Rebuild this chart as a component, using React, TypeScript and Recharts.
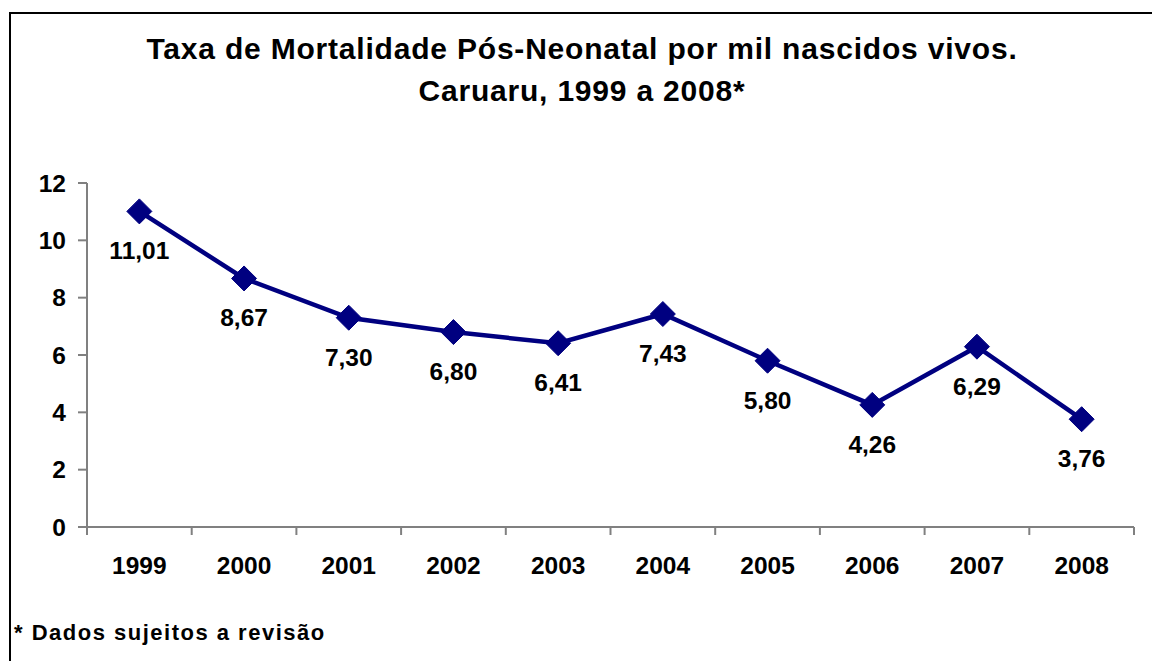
import { LineChart, Line, XAxis, YAxis, LabelList } from 'recharts';

// values (per 1000 live births)
const years = ['1999', '2000', '2001', '2002', '2003', '2004', '2005', '2006', '2007', '2008'];
const rates = [11.01, 8.67, 7.3, 6.8, 6.41, 7.43, 5.8, 4.26, 6.29, 3.76];
const yTicks = [0, 2, 4, 6, 8, 10, 12];

const titleLines = ['Taxa de Mortalidade Pós-Neonatal por mil nascidos vivos.', 'Caruaru, 1999 a 2008*'];
const footnote = '* Dados sujeitos a revisão';

const W = 1152;
const H = 661;
const PLOT_LEFT = 87;
const PLOT_RIGHT = 1134;
const PLOT_TOP = 183;
const PLOT_BOTTOM = 527;
const BAND = (PLOT_RIGHT - PLOT_LEFT) / years.length;

const NAVY = '#000080';
const AXIS_GRAY = '#808080';
const FONT = '"Liberation Sans", Arial, Helvetica, sans-serif';

const data = years.map((year, i) => ({ year, rate: rates[i] }));

const fmt = (v: number) => v.toFixed(2).replace('.', ',');

const Diamond = (props: any) => {
  const { cx, cy } = props;
  if (cx == null || cy == null) return null;
  const r = 12.5;
  return (
    <polygon
      points={`${cx},${cy - r} ${cx + r},${cy} ${cx},${cy + r} ${cx - r},${cy}`}
      fill={NAVY}
      stroke={NAVY}
      strokeWidth={1}
      strokeLinejoin="round"
    />
  );
};

const YearTick = (props: any) => {
  const { x, y, payload } = props;
  const idx = years.indexOf(String(payload.value));
  const half = BAND / 2;
  return (
    <g>
      <line x1={x - half} y1={y} x2={x - half} y2={y + 8} stroke={AXIS_GRAY} strokeWidth={2} />
      {idx === years.length - 1 && (
        <line x1={x + half} y1={y} x2={x + half} y2={y + 8} stroke={AXIS_GRAY} strokeWidth={2} />
      )}
      <text x={x} y={y + 47} textAnchor="middle" fill="#000" fontFamily={FONT} fontWeight="bold" fontSize={24.5}>
        {payload.value}
      </text>
    </g>
  );
};

const ValueLabel = (props: any) => {
  const { x, y, value } = props;
  return (
    <text x={x} y={y + 48} textAnchor="middle" fill="#000" fontFamily={FONT} fontWeight="bold" fontSize={24.5}>
      {fmt(Number(value))}
    </text>
  );
};

export default function App() {
  return (
    <div
      style={{
        position: 'fixed',
        left: 0,
        top: 0,
        width: W,
        height: H,
        background: '#fff',
        overflow: 'hidden',
      }}
    >
      {/* outer frame: only its left and top edges are inside the picture */}
      <div style={{ position: 'absolute', left: 9, top: 12, width: W, height: 2, background: '#000' }} />
      <div style={{ position: 'absolute', left: 9, top: 12, width: 2, height: H, background: '#000' }} />

      <div style={{ position: 'absolute', left: 0, top: 0 }}>
        <LineChart
          width={W}
          height={H}
          data={data}
          margin={{ top: PLOT_TOP, right: W - PLOT_RIGHT, bottom: 0, left: 0 }}
        >
          <XAxis
            dataKey="year"
            scale="band"
            interval={0}
            height={H - PLOT_BOTTOM}
            axisLine={{ stroke: AXIS_GRAY, strokeWidth: 2 }}
            tickLine={false}
            tickSize={0}
            tickMargin={0}
            tick={<YearTick />}
          />
          <XAxis
            xAxisId="top"
            orientation="top"
            dataKey="year"
            height={0}
            tick={false}
            tickLine={false}
            axisLine={{ stroke: AXIS_GRAY, strokeWidth: 2 }}
          />
          <YAxis
            width={PLOT_LEFT}
            domain={[0, 12]}
            ticks={yTicks}
            interval={0}
            axisLine={{ stroke: AXIS_GRAY, strokeWidth: 2 }}
            tickLine={{ stroke: AXIS_GRAY, strokeWidth: 2 }}
            tickSize={9}
            tickMargin={12}
            tick={{ fill: '#000', fontFamily: FONT, fontWeight: 'bold', fontSize: 24.5 }}
          />
          <YAxis
            yAxisId="right"
            orientation="right"
            width={0}
            domain={[0, 12]}
            tick={false}
            tickLine={false}
            axisLine={{ stroke: AXIS_GRAY, strokeWidth: 2 }}
          />
          <Line
            type="linear"
            dataKey="rate"
            stroke={NAVY}
            strokeWidth={4.5}
            dot={<Diamond />}
            activeDot={false}
            isAnimationActive={false}
          >
            <LabelList dataKey="rate" content={<ValueLabel />} />
          </Line>
        </LineChart>
      </div>

      <div
        style={{
          position: 'absolute',
          left: 0,
          top: 28,
          width: 1164,
          textAlign: 'center',
          fontFamily: FONT,
          fontWeight: 'bold',
          fontSize: 30,
          lineHeight: '42px',
          letterSpacing: 0.8,
          color: '#000',
        }}
      >
        {titleLines.map((t) => (
          <div key={t}>{t}</div>
        ))}
      </div>

      <div
        style={{
          position: 'absolute',
          left: 14,
          top: 622,
          fontFamily: FONT,
          fontWeight: 'bold',
          fontSize: 22,
          lineHeight: '22px',
          letterSpacing: 1.5,
          color: '#000',
          whiteSpace: 'nowrap',
        }}
      >
        {footnote}
      </div>
    </div>
  );
}
